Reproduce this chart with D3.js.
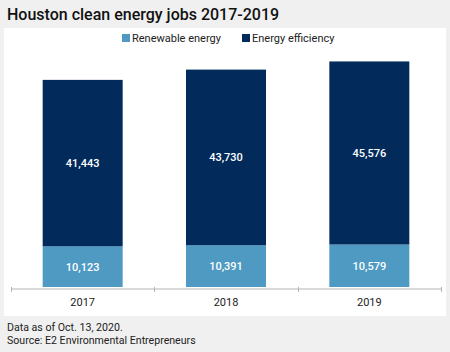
<!DOCTYPE html>
<html>
<head>
<meta charset="utf-8">
<script src="https://cdn.jsdelivr.net/npm/d3@7"></script>
<style>
  body { margin: 0; background: #f0f0f0; }
  svg { display: block; font-family: Roboto, "Liberation Sans", sans-serif; }
</style>
</head>
<body>
<div id="chart-area"></div>
<script>
const years = ["2017", "2018", "2019"]
const renewable = [10123, 10391, 10579]
const efficiency = [41443, 43730, 45576]
const seriesNames = ["Renewable energy", "Energy efficiency"]
const colors = ["#4e9ac3", "#022b5c"]

const W = 450, H = 352

const svg = d3.select("#chart-area").append("svg")
  .attr("width", W)
  .attr("height", H)

svg.append("rect").attr("width", W).attr("height", H).attr("fill", "#f0f0f0")
// white panel
svg.append("rect").attr("x", 4).attr("y", 28).attr("width", 442).attr("height", 288).attr("fill", "#fff")

// title
svg.append("text")
  .attr("x", 7)
  .attr("y", 20)
  .attr("font-size", "16px")
  .attr("font-weight", 500)
  .attr("fill", "#111")
  .text("Houston clean energy jobs 2017-2019")

const data = years.map((y, i) => ({ year: y, renewable: renewable[i], efficiency: efficiency[i] }))
const stack = d3.stack().keys(["renewable", "efficiency"])(data)

const x = d3.scaleBand()
  .domain(years)
  .range([11, 441])

const y = d3.scaleLinear()
  .domain([0, 60000])
  .range([287, 46])

const barW = 80

const g = svg.append("g")

const layers = g.selectAll("g.layer")
  .data(stack)
  .enter().append("g")
  .attr("class", "layer")
  .attr("fill", (d, i) => colors[i])

layers.selectAll("rect")
  .data(d => d)
  .enter().append("rect")
  .attr("x", d => x(d.data.year) + x.bandwidth() / 2 - barW / 2)
  .attr("width", barW)
  .attr("y", d => y(d[1]))
  .attr("height", d => y(d[0]) - y(d[1]))

layers.selectAll("text")
  .data(d => d)
  .enter().append("text")
  .attr("x", d => x(d.data.year) + x.bandwidth() / 2)
  .attr("y", d => (y(d[0]) + y(d[1])) / 2 + 4)
  .attr("text-anchor", "middle")
  .attr("fill", "#fff")
  .attr("font-size", "11px")
  .attr("font-weight", 500)
  .text(d => d3.format(",")(d[1] - d[0]))

// x axis
const axis = svg.append("g")
  .attr("transform", "translate(0, 289)")
axis.append("line")
  .attr("x1", 11).attr("x2", 441)
  .attr("stroke", "#b5b5b5")
axis.selectAll("line.tick")
  .data(years.map(d => x(d)).concat([x(years[2]) + x.bandwidth()]))
  .enter().append("line")
  .attr("class", "tick")
  .attr("x1", d => Math.round(d) + 0.5).attr("x2", d => Math.round(d) + 0.5)
  .attr("y1", -2).attr("y2", 3)
  .attr("stroke", "#b5b5b5")
axis.selectAll("text")
  .data(years)
  .enter().append("text")
  .attr("x", d => x(d) + x.bandwidth() / 2)
  .attr("y", 17)
  .attr("text-anchor", "middle")
  .attr("font-size", "11px")
  .attr("fill", "#222")
  .text(d => d)

// legend
const legendX = [122, 242]
const legend = svg.selectAll("g.legend")
  .data(seriesNames)
  .enter().append("g")
  .attr("class", "legend")
  .attr("transform", (d, i) => `translate(${legendX[i]}, 34)`)
legend.append("rect")
  .attr("width", 8).attr("height", 8)
  .attr("y", 0)
  .attr("fill", (d, i) => colors[i])
legend.append("text")
  .attr("x", 10)
  .attr("y", 8)
  .attr("font-size", "11px")
  .attr("fill", "#222")
  .text(d => d)

// footer
svg.append("text")
  .attr("x", 7).attr("y", 331)
  .attr("font-size", "10.6px")
  .attr("fill", "#222")
  .text("Data as of Oct. 13, 2020.")
svg.append("text")
  .attr("x", 7).attr("y", 344)
  .attr("font-size", "10.6px")
  .attr("fill", "#222")
  .text("Source: E2 Environmental Entrepreneurs")
</script>
</body>
</html>
